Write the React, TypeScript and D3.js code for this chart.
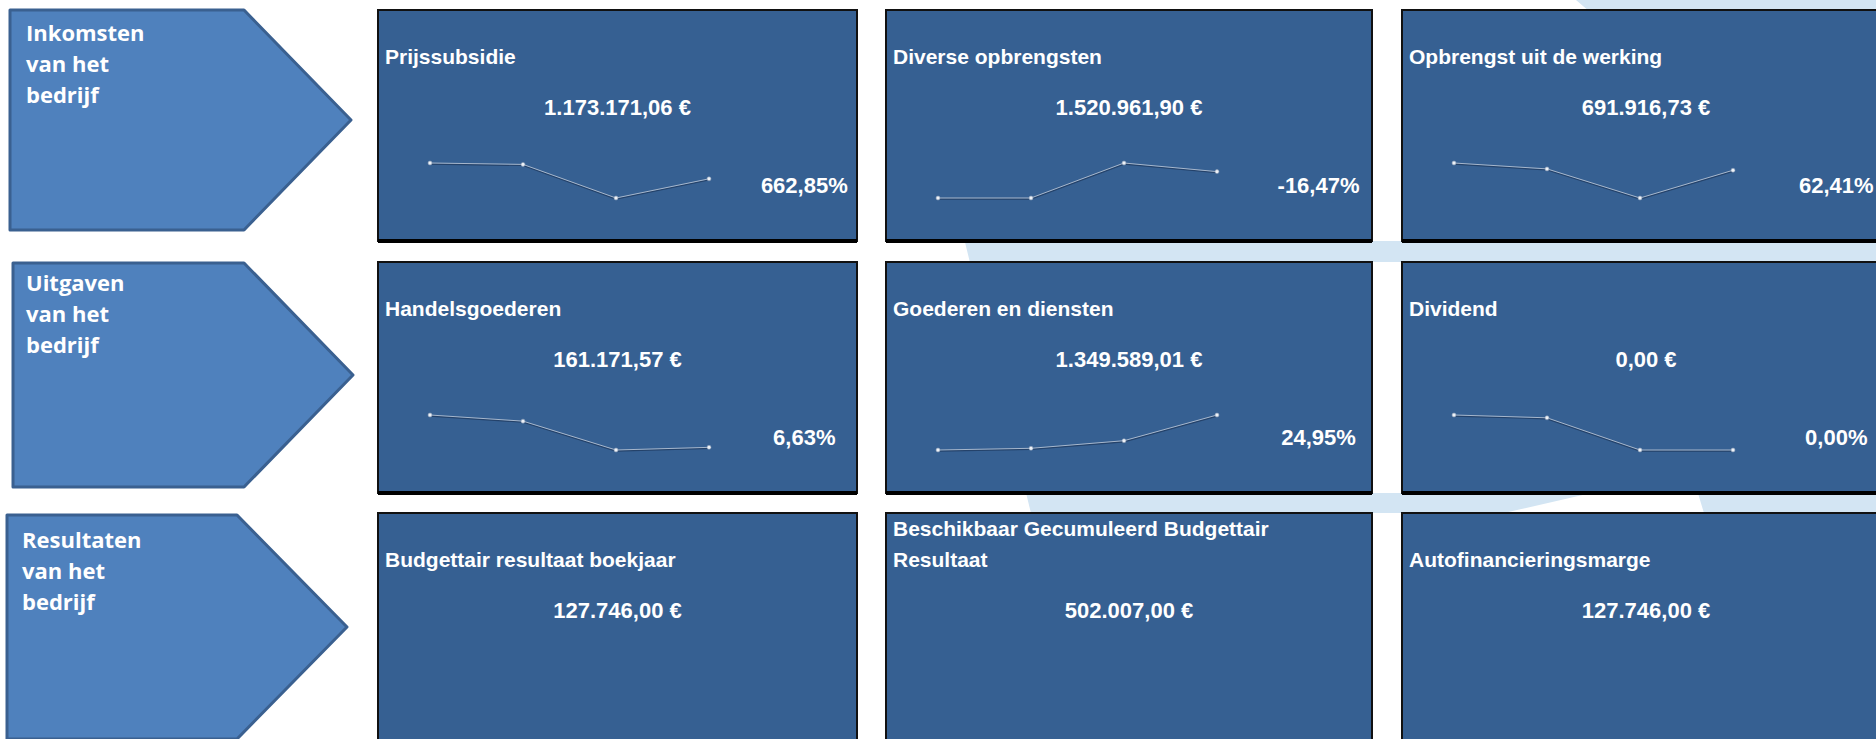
import React from 'react';
import * as d3 from 'd3';

// section labels in the chevrons
const sectionLabels = [
  ['Inkomsten', 'van het', 'bedrijf'],
  ['Uitgaven', 'van het', 'bedrijf'],
  ['Resultaten', 'van het', 'bedrijf'],
];

// tile titles, row by row
const tileTitles = [
  ['Prijssubsidie'],
  ['Diverse opbrengsten'],
  ['Opbrengst uit de werking'],
  ['Handelsgoederen'],
  ['Goederen en diensten'],
  ['Dividend'],
  ['Budgettair resultaat boekjaar'],
  ['Beschikbaar Gecumuleerd Budgettair', 'Resultaat'],
  ['Autofinancieringsmarge'],
];

const tileAmounts = [
  '1.173.171,06 €',
  '1.520.961,90 €',
  '691.916,73 €',
  '161.171,57 €',
  '1.349.589,01 €',
  '0,00 €',
  '127.746,00 €',
  '502.007,00 €',
  '127.746,00 €',
];

const tileChanges = ['662,85%', '-16,47%', '62,41%', '6,63%', '24,95%', '0,00%'];

// four periods per sparkline
const periods = [1, 2, 3, 4];

const trendPrijssubsidie = [2013976, 1939790, 153788, 1173171.06];
const trendDiverse = [601860, 602100, 1820863, 1520961.9];
const trendWerking = [761322, 704993, 426031, 691916.73];
const trendHandelsgoederen = [283350, 260215, 151150, 161171.57];
const trendGoederenDiensten = [982441, 1000284, 1080103, 1349589.01];
const trendDividend = [25000, 23000, 0, 0];

const trends = [
  trendPrijssubsidie,
  trendDiverse,
  trendWerking,
  trendHandelsgoederen,
  trendGoederenDiensten,
  trendDividend,
];

const W = 1876;
const H = 739;
const colLeft = [378, 886, 1402];
const colWidth = [479, 486, 488];
const rowTop = [10, 262, 513];
const rowH = 231;

const arrows = [
  { x: 10, y: 10, h: 220, body: 244, tip: 351, tx: 26, ty: 41 },
  { x: 13, y: 263, h: 224, body: 244, tip: 353, tx: 26, ty: 291 },
  { x: 7, y: 515, h: 224, body: 237, tip: 347, tx: 22, ty: 548 },
];

const boxFont = '"Liberation Sans", Arial, sans-serif';
const arrowFont = '"Open Sans", "Noto Sans", sans-serif';

const Sparkline = ({ values, left, top }) => {
  const x = d3.scaleLinear().domain([1, 4]).range([left + 52, left + 331]);
  const y = d3
    .scaleLinear()
    .domain(d3.extent(values))
    .range([top + 188, top + 153]);
  const pts = values.map((v, i) => [periods[i], v]);
  const line = d3
    .line()
    .x(d => x(d[0]))
    .y(d => y(d[1]));
  const path = line(pts);
  return (
    <g>
      <path d={path} transform="translate(0,1)" fill="none" stroke="#24426a" strokeWidth={1.4} />
      <path d={path} fill="none" stroke="#a7b7cc" strokeWidth={1} />
      {pts.map((d, i) => (
        <circle key={i} cx={x(d[0])} cy={y(d[1])} r={2} fill="#eef2f7" stroke="#8799b3" strokeWidth={0.6} />
      ))}
    </g>
  );
};

const App = () => {
  const arrowPath = a =>
    `M${a.x},${a.y}L${a.body},${a.y}L${a.tip},${a.y + a.h / 2}L${a.body},${a.y + a.h}L${a.x},${a.y + a.h}Z`;

  return (
    <svg
      width={W}
      height={H}
      style={{ position: 'absolute', left: 0, top: 0, background: '#fff' }}
    >
      {/* light blue backdrop shape */}
      <polygon
        points="1576,0 1876,0 1876,739 1772,739 1691,470 1056,616 945,160 1590,12"
        fill="#d3e5f3"
      />
      {/* white strips between tiles */}
      {rowTop.map((t, r) => (
        <g key={r}>
          <rect x={857} y={t} width={29} height={rowH} fill="#fff" />
          <rect x={1372} y={t} width={30} height={rowH} fill="#fff" />
        </g>
      ))}

      {arrows.map((a, i) => (
        <g key={i}>
          <path d={arrowPath(a)} fill="#4f81bd" stroke="#3a6090" strokeWidth={3} strokeLinejoin="round" />
          {sectionLabels[i].map((s, j) => (
            <text
              key={j}
              x={a.tx}
              y={a.ty + j * 31}
              fill="#fff"
              fontFamily={arrowFont}
              fontWeight="bold"
              fontSize={22}
            >
              {s}
            </text>
          ))}
        </g>
      ))}

      {tileTitles.map((title, k) => {
        const r = Math.floor(k / 3);
        const c = k % 3;
        const left = colLeft[c];
        const w = colWidth[c];
        const top = rowTop[r];
        return (
          <g key={k}>
            <rect x={left} y={top} width={w} height={rowH} fill="#366092" stroke="#111" strokeWidth={2} />
            <line x1={left} x2={left + w} y1={top + rowH} y2={top + rowH} stroke="#000" strokeWidth={4} />
            {title.map((s, j) => (
              <text
                key={j}
                x={left + 7}
                y={top + 54 - (title.length - 1 - j) * 31}
                fill="#fff"
                fontFamily={boxFont}
                fontWeight="bold"
                fontSize={21}
              >
                {s}
              </text>
            ))}
            <text
              x={left + w / 2}
              y={top + 105}
              textAnchor="middle"
              fill="#fff"
              fontFamily={boxFont}
              fontWeight="bold"
              fontSize={22}
            >
              {tileAmounts[k]}
            </text>
            {k < 6 && (
              <>
                <Sparkline values={trends[k]} left={left} top={top} />
                <text
                  x={left + w * 0.89}
                  y={top + 183}
                  textAnchor="middle"
                  fill="#fff"
                  fontFamily={boxFont}
                  fontWeight="bold"
                  fontSize={22}
                >
                  {tileChanges[k]}
                </text>
              </>
            )}
          </g>
        );
      })}
    </svg>
  );
};

export default App;
